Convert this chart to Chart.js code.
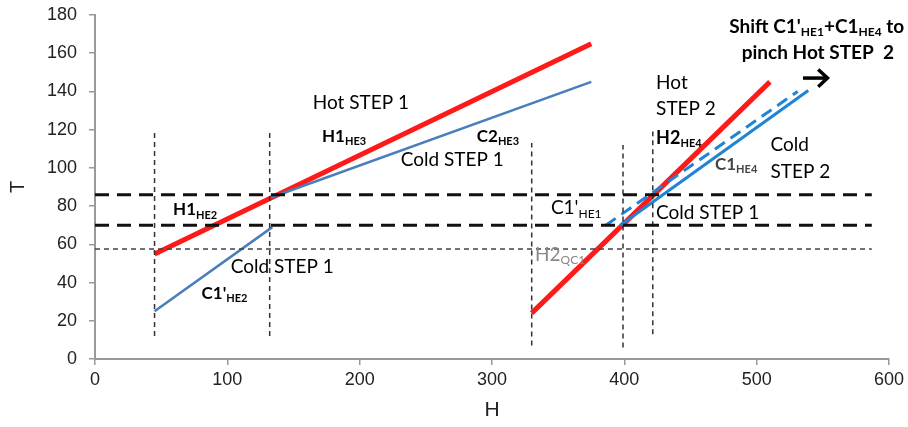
<!DOCTYPE html>
<html>
<head>
<meta charset="utf-8">
<title>T-H diagram</title>
<script src="https://cdn.jsdelivr.net/npm/chart.js@4.4.1/dist/chart.umd.min.js"></script>
<style>
  html, body { margin: 0; padding: 0; background: #fff; }
  #wrap { width: 908px; height: 427px; position: relative; }
</style>
</head>
<body>
<div id="wrap"><canvas id="thChart"></canvas></div>
<script>
// axis ticks
const xTicks = [0, 100, 200, 300, 400, 500, 600];
const yTicks = [0, 20, 40, 60, 80, 100, 120, 140, 160, 180];

// composite curves (H, T)
const hotStep1 = [{x: 45, y: 55}, {x: 375, y: 165}];
const coldStep1Low = [{x: 45, y: 25}, {x: 134, y: 69}];
const coldStep1High = [{x: 133, y: 84.5}, {x: 375, y: 145}];
const hotStep2 = [{x: 330, y: 24}, {x: 510, y: 145}];
const coldStep2 = [{x: 397, y: 70}, {x: 539, y: 140.5}];
const coldStep2Shifted = [{x: 386, y: 70}, {x: 531, y: 140}];

// guide lines
const pinchLevels = [86, 70];
const lowLevel = 57.6;
const guideH = [0, 587];
const stepBounds = [
  {h: 45, from: 12, to: 120},
  {h: 132, from: 12, to: 120},
  {h: 330, from: 7, to: 113},
  {h: 399, from: 6, to: 112},
  {h: 421.5, from: 13, to: 119}
];

// shift arrow
const arrowShaft = [{x: 535, y: 147}, {x: 553, y: 147}];
const arrowHead = [{x: 546.5, y: 151.5}, {x: 553.5, y: 147}, {x: 546.5, y: 142.5}];

// text labels: [H, T, parts, bold, size, colour]
const labels = [
  [164.5, 134, [['Hot STEP 1']], false],
  [171.5, 116.5, [['H1'], ['HE3', 1]], true],
  [288.5, 116.5, [['C2'], ['HE3', 1]], true],
  [231, 104, [['Cold STEP 1']], false],
  [59, 78, [['H1'], ['HE2', 1]], true],
  [102.5, 48, [['Cold STEP 1']], false],
  [80.5, 34.4, [["C1'"], ['HE2', 1]], true],
  [424, 144.7, [['Hot']], false],
  [424, 130.7, [['STEP 2']], false],
  [424, 115.5, [['H2'], ['HE4', 1]], true, 18],
  [468.5, 102, [['C1'], ['HE4', 1]], true, 17, '#444'],
  [510.5, 112, [['Cold']], false],
  [510.5, 98, [['STEP 2']], false],
  [424, 76.6, [['Cold STEP 1']], false],
  [344.5, 78.9, [["C1'"], ['HE1', 1]], false],
  [332.5, 54.5, [['H2'], ['QC1', 1]], false, 19, '#888'],
  [479.3, 174, [["Shift C1'"], ['HE1', 1], ['+C1'], ['HE4', 1], [' to']], true, 19],
  [488.7, 160, [['pinch Hot STEP  2']], true, 19]
];

const labelFont = 'Lato, "DejaVu Sans", sans-serif';

function line(data, color, width, dash) {
  return {
    data: data,
    showLine: true,
    borderColor: color,
    borderWidth: width,
    borderDash: dash || [],
    pointRadius: 0,
    pointHoverRadius: 0,
    fill: false
  };
}

const datasets = [];
// horizontal guides
pinchLevels.forEach(t => {
  datasets.push(line(guideH.map(h => ({x: h, y: t})), '#111', 3, [14, 8]));
});
datasets.push(line(guideH.map(h => ({x: h, y: lowLevel})), '#444', 1.5, [5, 4]));
// vertical step boundaries
stepBounds.forEach(b => {
  datasets.push(line([{x: b.h, y: b.from}, {x: b.h, y: b.to}], '#333', 1.5, [5, 4]));
});
datasets.push(line(coldStep1Low, '#4a7ebb', 2.5));
datasets.push(line(coldStep1High, '#4a7ebb', 2.5));
datasets.push(line(hotStep1, '#ff1a1a', 5));
datasets.push(line(coldStep2Shifted, '#1f84d6', 3, [12, 7]));
datasets.push(line(coldStep2, '#1f84d6', 3));
datasets.push(line(hotStep2, '#ff1a1a', 5));
datasets.push(line(arrowShaft, '#000', 3.5));
datasets.push(line(arrowHead, '#000', 3.5));

// draws the text labels with subscripts
const labelPlugin = {
  id: 'thLabels',
  afterDatasetsDraw(chart) {
    const ctx = chart.ctx;
    const xs = chart.scales.x, ys = chart.scales.y;
    ctx.save();
    ctx.textBaseline = 'middle';
    ctx.textAlign = 'left';
    labels.forEach(([h, t, parts, bold, size, color]) => {
      let px = xs.getPixelForValue(h);
      const py = ys.getPixelForValue(t);
      const main = size || (bold ? 17 : 19);
      const subSize = Math.round(main * 0.63);
      ctx.fillStyle = color || '#000';
      parts.forEach(([txt, sub]) => {
        ctx.font = (bold ? 'bold ' : '') + (sub ? subSize : main) + 'px ' + labelFont;
        ctx.fillText(txt, px, sub ? py + main * 0.3 : py);
        px += ctx.measureText(txt).width;
      });
    });
    ctx.restore();
  }
};

new Chart(document.getElementById('thChart'), {
  type: 'scatter',
  data: {datasets: datasets},
  plugins: [labelPlugin],
  options: {
    responsive: true,
    maintainAspectRatio: false,
    animation: false,
    layout: {padding: {top: 15, right: 19, left: 0, bottom: 0}},
    plugins: {legend: {display: false}, tooltip: {enabled: false}},
    scales: {
      x: {
        type: 'linear',
        min: 0,
        max: 600,
        afterBuildTicks: s => { s.ticks = xTicks.map(v => ({value: v})); },
        afterFit: s => { s.height = 68; s.paddingRight = 0; },
        grid: {display: true, drawOnChartArea: false, drawTicks: true, tickLength: 6, color: '#999', lineWidth: 1.5},
        border: {color: '#999', width: 2},
        ticks: {color: '#222', font: {family: 'Arial, "Liberation Sans", sans-serif', size: 18}, padding: 4},
        title: {display: true, text: 'H', color: '#222', font: {family: 'Arial, "Liberation Sans", sans-serif', size: 21}, padding: {top: 0, bottom: 4}}
      },
      y: {
        type: 'linear',
        min: 0,
        max: 180,
        afterBuildTicks: s => { s.ticks = yTicks.map(v => ({value: v})); },
        afterFit: s => { s.width = 95; s.paddingTop = 0; s.paddingBottom = 0; },
        grid: {display: true, drawOnChartArea: false, drawTicks: true, tickLength: 6, color: '#999', lineWidth: 1.5},
        border: {color: '#999', width: 2},
        ticks: {color: '#222', font: {family: 'Arial, "Liberation Sans", sans-serif', size: 18}, padding: 12},
        title: {display: true, text: 'T', color: '#222', font: {family: 'Arial, "Liberation Sans", sans-serif', size: 20}, padding: {top: 6, bottom: 0}}
      }
    }
  }
});
</script>
</body>
</html>
